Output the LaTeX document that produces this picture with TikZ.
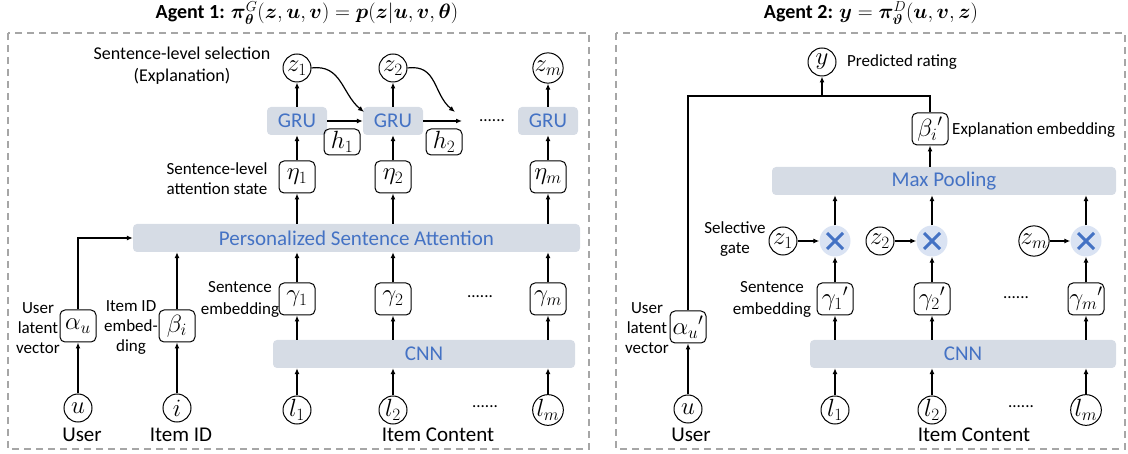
\documentclass[tikz,border=0pt]{standalone}
\usepackage{amsmath}
\usepackage{bm}
\usepackage{fontspec}
\setmainfont{Carlito}
\usepackage{tikz}
\usetikzlibrary{arrows.meta,calc}
\definecolor{barfill}{HTML}{D6DCE5}
\definecolor{bartext}{HTML}{4472C4}
\definecolor{gatefill}{HTML}{DAE3F3}
\definecolor{framegray}{HTML}{A6A6A6}

\begin{document}
\begin{tikzpicture}[x=1pt,y=-1pt,
  >={Latex[length=6pt,width=5pt]},
  every node/.style={inner sep=0pt,font=\fontsize{17}{20}\selectfont},
  conn/.style={line width=1.2pt,->},
  var/.style={draw,circle,line width=1pt,minimum size=28pt,font=\fontsize{23}{24}\selectfont},
  vec/.style={draw,rounded corners=5pt,line width=1pt,minimum width=36pt,minimum height=32pt,font=\fontsize{23}{24}\selectfont},
  bar/.style={fill=barfill,rounded corners=4pt,minimum height=28pt,text=bartext,font=\fontsize{21}{24}\selectfont},
  gate/.style={circle,fill=gatefill,minimum size=31pt},
  cross/.style={draw=bartext,line width=3pt},
  panel/.style={draw=framegray,line width=1.5pt,dash pattern=on 7pt off 5pt},
  bigtext/.style={font=\fontsize{21}{24}\selectfont},
  twoline/.style={align=center}]
\useasboundingbox (0,0) rectangle (1128,454);

\draw[panel] (8,33) rectangle (589,449);
\draw[panel] (616,33) rectangle (1125,449);

\node[font=\fontsize{20}{22}\selectfont] (title1) at (307,13) {\textbf{Agent 1:} $\bm{\pi}^{G}_{\bm{\theta}}(\bm{z},\bm{u},\bm{v})=\bm{p}(\bm{z}|\bm{u},\bm{v},\bm{\theta})$};
\node[font=\fontsize{20}{22}\selectfont] (title2) at (871,13) {\textbf{Agent 2:} $\bm{y}=\bm{\pi}^{D}_{\bm{\vartheta}}(\bm{u},\bm{v},\bm{z})$};

% generator
\node[bar,minimum width=447pt] (psa) at (356.5,238) {Personalized Sentence Attention};
\node[bar,minimum width=302pt] (cnn) at (424,354) {CNN};
\foreach \x/\k/\n in {297/1/1,393/2/2,548/3/m}{
  \node[var] (z\k) at (\x,68) {$z_{\n}$};
  \node[bar,minimum width=60pt] (gru\k) at (\x,121) {GRU};
  \node[vec] (eta\k) at (\x,177) {$\eta_{\n}$};
  \node[vec] (gam\k) at (\x,299) {$\gamma_{\n}$};
  \node[var] (l\k) at (\x,410) {$l_{\n}$};
  \draw[conn] (l\k) -- (l\k |- cnn.south);
  \draw[conn] (gam\k |- cnn.north) -- (gam\k);
  \draw[conn] (gam\k) -- (gam\k |- psa.south);
  \draw[conn] (eta\k |- psa.north) -- (eta\k);
  \draw[conn] (eta\k) -- (gru\k);
  \draw[conn] (gru\k) -- (z\k);
}
\node[vec,minimum height=26pt] (h1) at (342,142) {$h_1$};
\node[vec,minimum height=26pt] (h2) at (444,142) {$h_2$};
\coordinate (gruout) at (462,121);
\coordinate (zin1) at (364,112);
\coordinate (zin2) at (455,112);
\draw[conn] (gru1) -- (gru2);
\draw[conn] (gru2) -- (gruout);
\draw[conn] (z1.east) .. controls +(30,-4) and +(-22,-18) .. (zin1);
\draw[conn] (z2.east) .. controls +(30,-4) and +(-22,-18) .. (zin2);
\node (dotsA) at (492,121) {......};
\node (dotsB) at (480,297) {......};
\node (dotsC) at (485,407) {......};

\node[var] (u) at (78,408) {$u$};
\node[var] (i) at (177,408) {$i$};
\node[vec] (alpha) at (78,326) {$\alpha_u$};
\node[vec] (beta) at (177,326) {$\beta_i$};
\draw[conn] (u) -- (alpha);
\draw[conn] (i) -- (beta);
\draw[conn] (beta) -- (beta |- psa.south);
\draw[conn] (alpha) |- (psa.west);

\node[twoline,font=\fontsize{18}{22}\selectfont] (sellbl) at (182,66) {Sentence-level selection\\(Explanation)};
\node[twoline] (attlbl) at (217,179) {Sentence-level\\attention state};
\node[twoline,font=\fontsize{17}{22}\selectfont] (emblbl) at (240,299) {Sentence\\embedding};
\node[twoline] (ulbl) at (38,328) {User\\latent\\vector};
\node[twoline] (ilbl) at (131,328) {Item ID\\embed-\\ding};
\node[bigtext] (userlbl) at (82,435) {User};
\node[bigtext] (itemlbl) at (181,435) {Item ID};
\node[bigtext] (contlbl) at (438,435) {Item Content};

% discriminator
\node[var] (y) at (822,62) {$y$};
\node[anchor=west] (predlbl) at (847,62) {Predicted rating};
\node[vec] (betaB) at (930,129) {${\beta_i}'$};
\node[anchor=west] (explbl) at (952,130) {Explanation embedding};
\node[bar,minimum width=344pt] (pool) at (944,181) {Max Pooling};
\node[bar,minimum width=306pt] (cnnB) at (963,354) {CNN};
\foreach \x/\zx/\k/\n in {835/783/1/1,932/880/2/2,1086/1034/3/m}{
  \node[gate] (g\k) at (\x,241) {};
  \draw[cross] ($(g\k)+(-8,-8)$) -- ($(g\k)+(8,8)$) ($(g\k)+(-8,8)$) -- ($(g\k)+(8,-8)$);
  \node[var] (zB\k) at (\zx,241) {$z_{\n}$};
  \node[vec] (gamB\k) at (\x,299) {${\gamma_{\n}}'$};
  \node[var] (lB\k) at (\x,410) {$l_{\n}$};
  \draw[conn] (zB\k) -- (g\k);
  \draw[conn] (lB\k) -- (lB\k |- cnnB.south);
  \draw[conn] (gamB\k |- cnnB.north) -- (gamB\k);
  \draw[conn] (gamB\k) -- (g\k);
  \draw[conn] (g\k) -- (g\k |- pool.south);
}
\draw[conn] (betaB |- pool.north) -- (betaB);
\node (dotsD) at (1016,298) {......};
\node (dotsE) at (1021,407) {......};

\node[var] (uB) at (688,409) {$u$};
\node[vec] (alphaB) at (688,327) {${\alpha_u}'$};
\coordinate (join) at (822,96);
\draw[conn] (uB) -- (alphaB);
\draw[line width=1.2pt] (alphaB) |- (join) -| (betaB);
\draw[conn] (join) -- (y);

\node[twoline] (gatelbl) at (735,239) {Selective\\gate};
\node[twoline,font=\fontsize{17}{22}\selectfont] (embBlbl) at (772,299) {Sentence\\embedding};
\node[twoline] (uBlbl) at (647,328) {User\\latent\\vector};
\node[bigtext] (userBlbl) at (691,435) {User};
\node[bigtext] (contBlbl) at (974,435) {Item Content};
\end{tikzpicture}
\end{document}
